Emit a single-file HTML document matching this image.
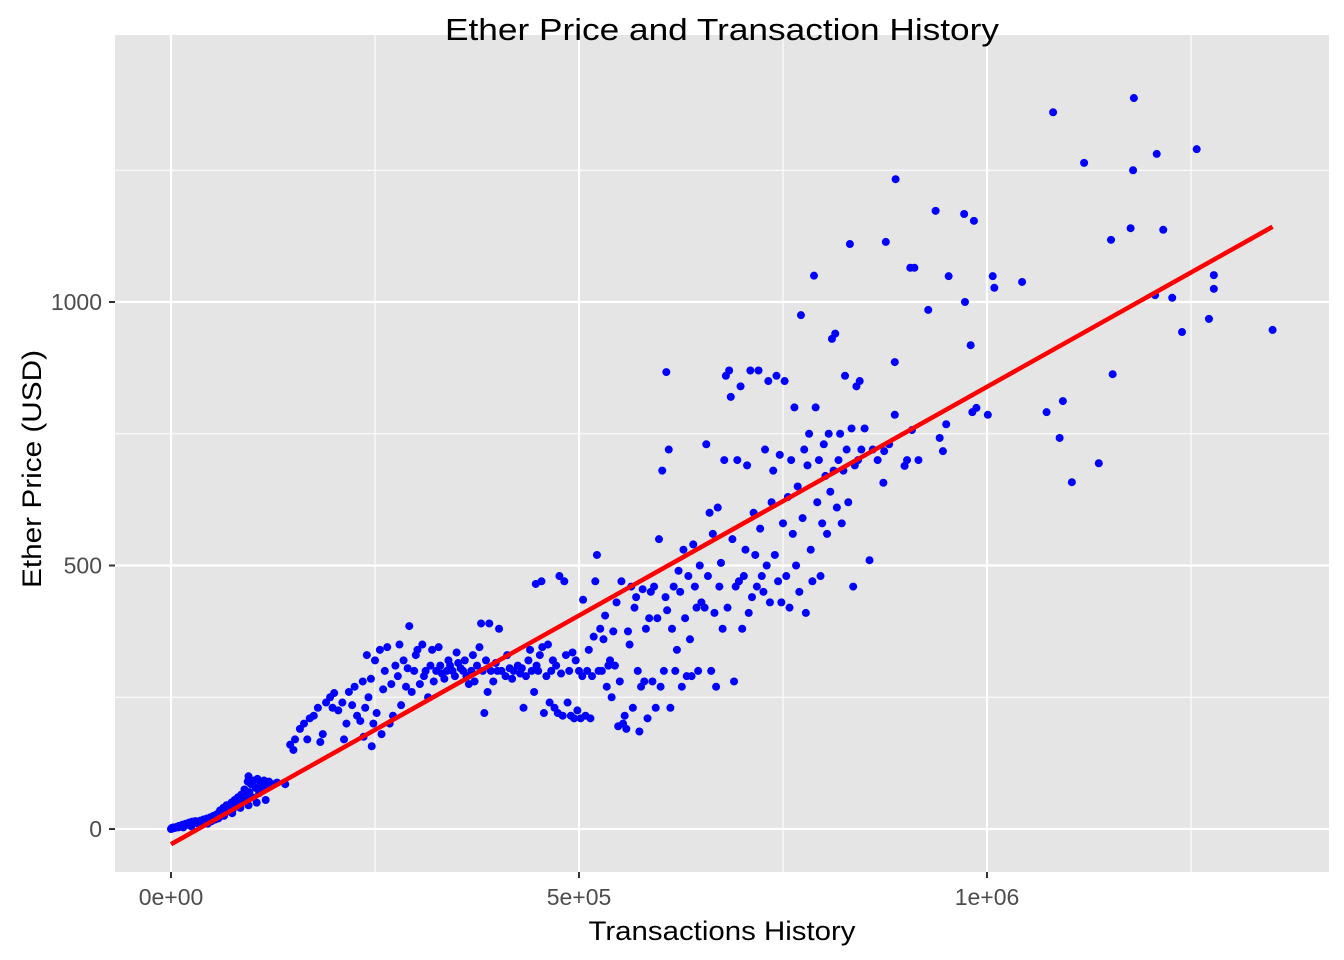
<!DOCTYPE html>
<html>
<head>
<meta charset="utf-8">
<style>
html,body{margin:0;padding:0;background:#fff;}
svg{display:block;font-family:"Liberation Sans",Arial,sans-serif;}
</style>
</head>
<body>
<svg id="chart" width="1344" height="960" viewBox="0 0 1344 960" xmlns="http://www.w3.org/2000/svg">
  <rect x="0" y="0" width="1344" height="960" fill="#ffffff"/>
  <rect x="115" y="35" width="1214" height="837" fill="#e5e5e5"/>
  <g id="grid"></g>
  <g id="points"></g>
  <g id="fit"></g>
  <g id="axes"></g>
  <text x="722" y="40" text-anchor="middle" font-size="31" textLength="554" lengthAdjust="spacingAndGlyphs" fill="#000">Ether Price and Transaction History</text>
  <text x="722" y="940" text-anchor="middle" font-size="27" textLength="267" lengthAdjust="spacingAndGlyphs" fill="#000">Transactions History</text>
  <text transform="translate(41,469) rotate(-90)" text-anchor="middle" font-size="27" textLength="238" lengthAdjust="spacingAndGlyphs" fill="#000">Ether Price (USD)</text>
</svg>
<script>
// x in thousands of transactions, y in USD
const xTicks = [0, 500, 1000];
const xTickLabels = ["0e+00", "5e+05", "1e+06"];
const xMinor = [250, 750, 1250];
const yTicks = [0, 500, 1000];
const yTickLabels = ["0", "500", "1000"];
const yMinor = [250, 750, 1250];

const lowX = [0,1,2,3,5,7,9,10,12,14,16,18,20,22,24,26,28,30,32,34,36,38,40,42,44,46,48,50,52,54,56,58,60,62,64,66,68,70,72,74,76,78,80,82,84,86,88,90,92,94,95,96,98,100,102,104,106,108,110,112,114,116,118,120,125,130,140,105,95,85,75,65,55,45,35,25,15];
const lowY = [0,2,1,3,2,4,3,6,5,8,6,10,8,12,9,14,11,15,12,10,16,13,18,14,20,12,22,15,25,18,28,20,35,25,40,30,45,35,42,50,38,55,48,60,45,65,55,75,62,90,100,70,85,60,92,78,95,68,88,75,92,55,82,90,85,88,85,50,45,40,30,25,20,10,8,5,3];

const midX = [146,150,152,158,163,167,170,175,180,183,186,190,195,198,200,205,210,212,215,218,222,225,228,232,235,238,240,242,245,248,250,252,256,258,260,262,265,268,270,272,275,278,280,282,285,288,290,292,295,298,300,302,305,308,310,312,315,318,320,322,325,328,330,332,335,338,340,342,345,348,350,352,355,358,360,362,365,368,370,372,375,378,380,382,384,386,388,390,392,395,398,400,402,246,236];
const midY = [160,150,170,190,200,170,210,215,230,165,180,240,250,230,258,225,240,170,200,260,235,270,215,205,280,230,330,250,285,200,320,220,340,180,265,300,345,200,275,215,310,290,350,235,320,270,305,385,260,300,330,340,275,350,290,300,250,310,340,280,300,345,310,295,285,300,320,310,300,290,335,315,305,300,320,290,275,300,330,280,310,345,390,300,220,320,260,390,300,280,315,300,380,157,175];

const centerX = [405,410,412,415,418,420,425,428,430,432,435,438,440,442,445,447,448,450,452,454,455,457,460,462,464,466,468,470,472,474,476,478,480,482,484,486,488,490,492,494,496,498,500,502,504,505,508,510,512,514,516,518,520,522,524,526,528,530,532,534,536,538,540,542,544,546,548,550,552,554,556,558,560];
const centerY = [300,290,330,305,285,300,310,295,305,230,290,320,340,300,260,465,310,300,330,470,345,220,290,350,240,300,320,230,310,220,480,295,215,470,330,240,300,215,335,210,320,225,300,210,290,435,215,300,340,210,290,365,470,520,300,380,300,360,405,270,310,320,250,375,310,430,195,280,470,200,215,190,375];

const upperMidX = [562,564,566,568,570,572,574,576,578,580,582,584,586,588,590,592,594,596,598,600,602,604,606,607,608,610,612,614,616,618,620,622,624,626,628,630,632,634,636,638,640,642,644,646,648,650,654,656,658,660,662,664,666,668,670,672,674,676,678,680,682,684,686,688,690,692,694,696,698,700];
const upperMidY = [350,460,230,420,440,300,185,270,455,280,380,210,400,450,280,460,230,400,550,270,680,300,440,867,415,720,230,380,460,300,340,490,450,270,530,400,290,480,360,290,540,460,420,300,500,430,420,730,480,600,300,560,410,270,610,460,505,380,700,860,420,870,820,550,280,460,700,470,840,380];

const upperX = [702,704,706,708,710,712,714,716,718,720,722,724,726,728,730,732,734,736,738,740,742,744,746,748,750,752,754,756,758,760,762,764,766,768,770,772,774,776,778,780,782,784,786,788,790,792,794,796,798,800,802,804,806,808,810,812,814,816,818,820,822,824,826,828,830,832,834,836,838,840,842,844,846,850,856];
const upperY = [480,530,690,410,870,440,600,520,460,870,570,480,450,720,500,850,430,620,680,520,860,470,710,430,580,850,480,630,420,700,560,800,500,650,450,975,590,720,410,690,750,530,470,1050,800,620,700,480,580,730,670,560,750,640,930,680,940,610,700,750,580,680,860,720,620,1110,760,460,690,840,700,850,720,760,510];

const topX = [1081,1180,1119,1208,1179,1257,888,972,937,876,1152,1176,1216,984,953,911,906,1007,1009,1043,1278,1278,1206,1227,973,928,1272,1239,1350,980,1093,1073,1001,982,987,1089,1104,1137,1154,942,946,950,908,887,887,902,916,899,873,874,860,866,880];
const topY = [1360,1387,1264,1281,1250,1290,1233,1167,1173,1114,1118,1140,1137,1154,1049,1065,1065,1049,1027,1038,1051,1025,1013,1008,1000,985,968,943,947,918,812,791,786,791,799,742,658,694,863,742,717,768,757,786,886,700,700,689,657,717,720,700,730];

const xVals = [].concat(lowX, midX, centerX, upperMidX, upperX, topX);
const yVals = [].concat(lowY, midY, centerY, upperMidY, upperY, topY);

const NS = "http://www.w3.org/2000/svg";
const PL = 115, PR = 1329, PT = 35, PB = 872;
function xScale(v){ return 171 + v * 0.816; }
function yScale(v){ return 829 - v * 0.527; }

const grid = document.getElementById('grid');
function gl(x1,y1,x2,y2,w,name){
  const l = document.createElementNS(NS,'line');
  l.setAttribute('x1',x1); l.setAttribute('y1',y1); l.setAttribute('x2',x2); l.setAttribute('y2',y2);
  l.setAttribute('stroke','#ffffff'); l.setAttribute('stroke-width',w);
  
  
  grid.appendChild(l);
}
xMinor.forEach(v=>gl(xScale(v),PT,xScale(v),PB,1.1,'x-minor-gridline'));
yMinor.forEach(v=>gl(PL,yScale(v),PR,yScale(v),1.1,'y-minor-gridline'));
xTicks.forEach(v=>gl(xScale(v),PT,xScale(v),PB,2.2,'x-major-gridline'));
yTicks.forEach(v=>gl(PL,yScale(v),PR,yScale(v),2.2,'y-major-gridline'));

const axes = document.getElementById('axes');
xTicks.forEach((v,i)=>{
  const t = document.createElementNS(NS,'line');
  t.setAttribute('x1',xScale(v)); t.setAttribute('x2',xScale(v)); t.setAttribute('y1',PB); t.setAttribute('y2',PB+6);
  t.setAttribute('stroke','#333'); t.setAttribute('stroke-width',2);
  
  
  axes.appendChild(t);
  const tx = document.createElementNS(NS,'text');
  tx.setAttribute('x',xScale(v)); tx.setAttribute('y',PB+33);
  tx.setAttribute('text-anchor','middle'); tx.setAttribute('font-size','23'); tx.setAttribute('fill','#4d4d4d');
  tx.textContent = xTickLabels[i];
  
  
  axes.appendChild(tx);
});
yTicks.forEach((v,i)=>{
  const t = document.createElementNS(NS,'line');
  t.setAttribute('x1',PL-6); t.setAttribute('x2',PL); t.setAttribute('y1',yScale(v)); t.setAttribute('y2',yScale(v));
  t.setAttribute('stroke','#333'); t.setAttribute('stroke-width',2);
  
  
  axes.appendChild(t);
  const tx = document.createElementNS(NS,'text');
  tx.setAttribute('x',PL-13); tx.setAttribute('y',yScale(v)+8);
  tx.setAttribute('text-anchor','end'); tx.setAttribute('font-size','23'); tx.setAttribute('fill','#4d4d4d');
  tx.textContent = yTickLabels[i];
  
  
  axes.appendChild(tx);
});

const pts = document.getElementById('points');
for (let i=0;i<xVals.length;i++){
  const c = document.createElementNS(NS,'circle');
  c.setAttribute('cx',xScale(xVals[i])); c.setAttribute('cy',yScale(yVals[i])); c.setAttribute('r',4);
  c.setAttribute('fill','#0000ff');
  
  
  pts.appendChild(c);
}

// least-squares fit
const n = xVals.length;
let sx=0, sy=0, sxx=0, sxy=0;
for (let i=0;i<n;i++){ sx+=xVals[i]; sy+=yVals[i]; sxx+=xVals[i]*xVals[i]; sxy+=xVals[i]*yVals[i]; }
const slope = (n*sxy - sx*sy)/(n*sxx - sx*sx);
const intercept = (sy - slope*sx)/n;
const xmin = Math.min(...xVals), xmax = Math.max(...xVals);
const fl = document.createElementNS(NS,'line');
fl.setAttribute('x1',xScale(xmin)); fl.setAttribute('y1',yScale(intercept+slope*xmin));
fl.setAttribute('x2',xScale(xmax)); fl.setAttribute('y2',yScale(intercept+slope*xmax));
fl.setAttribute('stroke','#ff0000'); fl.setAttribute('stroke-width',4.5);


document.getElementById('fit').appendChild(fl);
</script>
</body>
</html>
